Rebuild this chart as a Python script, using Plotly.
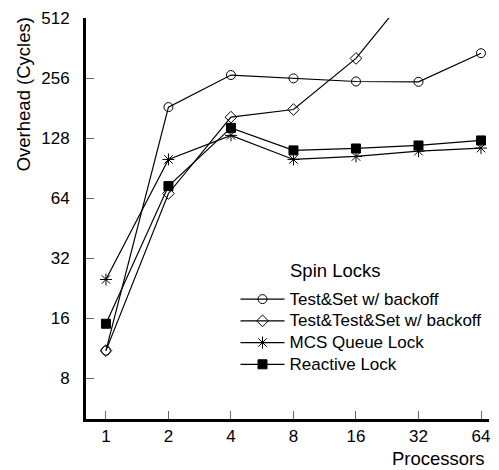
import math
import plotly.graph_objects as go

# Processor counts on the x axis
processors = [1, 2, 4, 8, 16, 32, 64]

# Lock overhead in cycles for each spin-lock variant
test_and_set = [11, 183, 265, 255, 246, 245, 341]
test_test_and_set = [11, 67.5, 163, 178, 321, 780, 1500]
mcs_queue = [25, 100, 132, 100, 103.5, 110, 114]
reactive = [15, 73.5, 144, 111, 113.5, 117.5, 124.5]

x_ticks = [1, 2, 4, 8, 16, 32, 64]
y_ticks = [8, 16, 32, 64, 128, 256, 512]

series = [
    ("Test&Set w/ backoff", test_and_set, "circle-open", 9),
    ("Test&Test&Set w/ backoff", test_test_and_set, "diamond-open", 9),
    ("MCS Queue Lock", mcs_queue, "asterisk-open", 10),
    ("Reactive Lock", reactive, "square", 9),
]

FONT = "Liberation Sans, Arial, Helvetica, sans-serif"

fig = go.Figure()
for name, values, symbol, size in series:
    fig.add_trace(go.Scatter(
        x=processors, y=values, mode="lines+markers",
        # legend rows are packed tightly; the label itself is drawn larger
        name=f"<span style='font-size:17px'>{name}</span>",
        line=dict(color="black", width=1.2),
        marker=dict(symbol=symbol, size=size, color="black",
                    line=dict(color="black", width=1)),
        cliponaxis=True,
    ))

fig.update_layout(
    width=499, height=470, autosize=False,
    margin=dict(l=86, r=9, t=16, b=51),
    paper_bgcolor="white", plot_bgcolor="white",
    font=dict(family=FONT, size=17, color="black"),
    showlegend=True,
    legend=dict(
        x=0.371, y=0.3385, xanchor="left", yanchor="top",
        bgcolor="rgba(0,0,0,0)", borderwidth=0,
        font=dict(family=FONT, size=14.4, color="black"),
        itemwidth=44, tracegroupgap=0,
    ),
    xaxis=dict(
        type="log", range=[math.log10(2 ** -0.319), math.log10(2 ** 6.128)],
        tickvals=x_ticks, ticktext=[str(v) for v in x_ticks],
        ticks="inside", ticklen=8, tickwidth=1, tickcolor="#666",
        showline=True, linewidth=3, linecolor="black",
        showgrid=False, zeroline=False,
        tickfont=dict(family=FONT, size=17, color="black"),
        ticklabelstandoff=0,
    ),
    yaxis=dict(
        type="log", range=[math.log10(2 ** 2.32), math.log10(512)],
        tickvals=y_ticks, ticktext=[str(v) for v in y_ticks],
        ticks="inside", ticklen=8, tickwidth=1, tickcolor="#666",
        showline=True, linewidth=3, linecolor="black",
        showgrid=False, zeroline=False,
        tickfont=dict(family=FONT, size=17, color="black"),
        ticklabelstandoff=10,
    ),
    annotations=[
        dict(text="Overhead (Cycles)", textangle=-90, xref="paper", yref="paper",
             x=-0.156, y=0.81, xanchor="center", yanchor="middle",
             showarrow=False, font=dict(family=FONT, size=18.5, color="black")),
        dict(text="Processors", xref="paper", yref="paper",
             x=0.995, y=-0.098, xanchor="right", yanchor="middle",
             showarrow=False, font=dict(family=FONT, size=18.5, color="black")),
        dict(text="Spin Locks", xref="paper", yref="paper",
             x=0.50, y=0.370, xanchor="left", yanchor="middle",
             showarrow=False, font=dict(family=FONT, size=18.5, color="black")),
    ],
)

fig.write_html("out.html")
